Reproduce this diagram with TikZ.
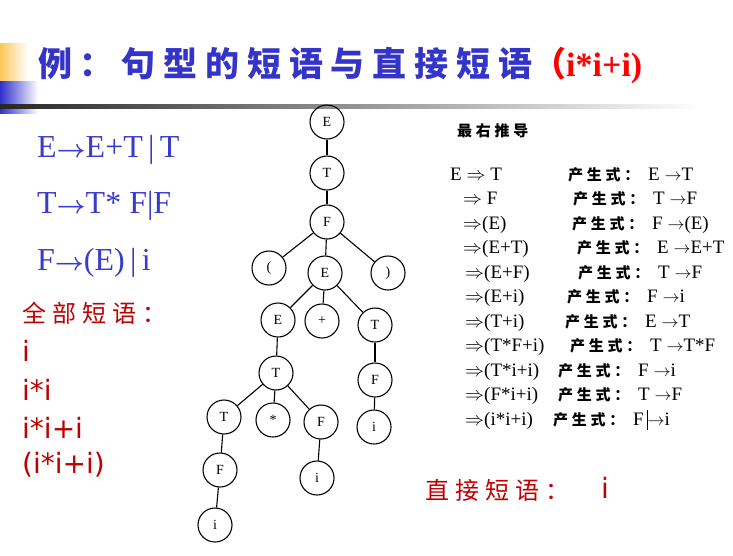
\documentclass[tikz,border=0pt]{standalone}
\usepackage{fontspec}
\usepackage{graphicx}
\usepackage{xcolor}
\usepackage{tikz}
\usetikzlibrary{positioning}
\setmainfont{Liberation Serif}
\newfontfamily\phrasefont{DejaVu Sans}
\newfontfamily\cjk{Noto Sans CJK SC}
\newfontfamily\cjktitle{Noto Sans CJK SC}[LetterSpace=23]
\newfontfamily\cjkwide{Noto Sans CJK SC}[LetterSpace=25]
\definecolor{TitleBlue}{HTML}{3434C8}
\definecolor{GramBlue}{HTML}{3A3ACC}
\definecolor{TitleRed}{HTML}{FF0000}
\definecolor{PhraseRed}{HTML}{C00000}
\definecolor{BarYellow}{HTML}{FCC75A}
\definecolor{BarBlue}{HTML}{2F2FCC}
\newcommand\garrow{\resizebox{29pt}{!}{\boldmath$\rightarrow$}}
\newcommand\darrow{\resizebox{19pt}{!}{$\Rightarrow$}}
\newcommand\rarrow{\resizebox{17pt}{!}{$\rightarrow$}}

\begin{document}
\begin{tikzpicture}[x=1pt,y=-1pt,
    tn/.style={circle,draw,line width=1.1pt,minimum size=34pt,inner sep=0pt,
      font=\fontsize{14}{14}\selectfont},
    branch/.style={line width=1.1pt},
    gram/.style={anchor=base west,text=GramBlue,inner sep=0pt,
      font=\fontsize{32}{34}\selectfont},
    phrase/.style={anchor=base west,text=PhraseRed,inner sep=0pt,
      font=\phrasefont\fontsize{28}{30}\selectfont},
    deriv/.style={anchor=base west,inner sep=0pt,
      font=\fontsize{19}{20}\selectfont},
    rule/.style={anchor=base west,inner sep=0pt,
      font=\fontsize{19}{20}\selectfont}]
  \useasboundingbox (0,0) rectangle (733,555);
  \shade[left color=BarYellow,right color=white] (0,43) rectangle (28,81);
  \shade[left color=BarBlue,right color=white] (0,81) rectangle (38,113);
  \shade[left color=black!85,right color=white] (0,104) rectangle (700,108);

  \node[anchor=base west,inner sep=0pt] (title) at (38,76)
    {\textcolor{TitleBlue}{\cjktitle\bfseries\fontsize{34}{36}\selectfont 例：句型的短语与直接短语}%
     \textcolor{TitleRed}{\bfseries\fontsize{34}{36}\selectfont{\cjk （}i*i+i)}};

  \node[gram] (g1) at (37,157) {E\garrow E+T\,|\,T};
  \node[gram] (g2) at (37,213) {T\garrow T* F|F};
  \node[gram] (g3) at (37,270) {F\garrow(E)\,|\,i};

  \node[anchor=base west,inner sep=0pt,text=PhraseRed] (all) at (22,322)
    {\cjkwide\fontsize{24}{26}\selectfont 全部短语：};
  \node[phrase] (p1) at (22,361) {i};
  \node[phrase] (p2) at (22,400) {i*i};
  \node[phrase] (p3) at (22,438) {i*i+i};
  \node[phrase] (p4) at (22,473) {(i*i+i)};

  \node[tn] (nE)   at (327,122) {E};
  \node[tn] (nT)   at (327,173) {T};
  \node[tn] (nF)   at (327,222) {F};
  \node[tn] (nLp)  at (269,268) {(};
  \node[tn] (nE2)  at (325,273) {E};
  \node[tn] (nRp)  at (388,273) {)};
  \node[tn] (nE3)  at (278,320) {E};
  \node[tn] (nPl)  at (322,321) {+};
  \node[tn] (nT2)  at (375,325) {T};
  \node[tn] (nT3)  at (276,373) {T};
  \node[tn] (nF2)  at (375,380) {F};
  \node[tn] (nI1)  at (374,427) {i};
  \node[tn] (nT4)  at (224,417) {T};
  \node[tn] (nSt)  at (273,420) {*};
  \node[tn] (nF3)  at (321,422) {F};
  \node[tn] (nF4)  at (220,470) {F};
  \node[tn] (nI2)  at (317,478) {i};
  \node[tn] (nI3)  at (215,525) {i};
  \draw[branch] (nE)--(nT); \draw[branch] (nT)--(nF);
  \draw[branch] (nF)--(nLp); \draw[branch] (nF)--(nE2); \draw[branch] (nF)--(nRp);
  \draw[branch] (nE2)--(nE3); \draw[branch] (nE2)--(nPl); \draw[branch] (nE2)--(nT2);
  \draw[branch] (nT2)--(nF2); \draw[branch] (nF2)--(nI1);
  \draw[branch] (nE3)--(nT3);
  \draw[branch] (nT3)--(nT4); \draw[branch] (nT3)--(nSt); \draw[branch] (nT3)--(nF3);
  \draw[branch] (nT4)--(nF4); \draw[branch] (nF4)--(nI3); \draw[branch] (nF3)--(nI2);

  \node[anchor=base west,inner sep=0pt] (rmd) at (457,136)
    {\cjkwide\bfseries\fontsize{15}{16}\selectfont 最右推导};

  \node[deriv] (d1)  at (450,180)   {E \darrow\ T};
  \node[deriv] (d2)  at (463,204.5) {\darrow\ F};
  \node[deriv] (d3)  at (463,229)   {\darrow(E)};
  \node[deriv] (d4)  at (463,253.5) {\darrow(E+T)};
  \node[deriv] (d5)  at (465,278)   {\darrow(E+F)};
  \node[deriv] (d6)  at (465,302.5) {\darrow(E+i)};
  \node[deriv] (d7)  at (465,327)   {\darrow(T+i)};
  \node[deriv] (d8)  at (465,351.5) {\darrow(T*F+i)};
  \node[deriv] (d9)  at (465,376)   {\darrow(T*i+i)};
  \node[deriv] (d10) at (465,400.5) {\darrow(F*i+i)};
  \node[deriv] (d11) at (465,425)   {\darrow(i*i+i)};

  \newcommand\prodlabel{\makebox[80pt][l]{\cjkwide\bfseries\fontsize{15}{15}\selectfont 产生式：}}
  \node[rule] (r1)  at (568,180)   {\prodlabel E \rarrow T};
  \node[rule] (r2)  at (573,204.5) {\prodlabel T \rarrow F};
  \node[rule] (r3)  at (572,229)   {\prodlabel F \rarrow(E)};
  \node[rule] (r4)  at (577,253.5) {\prodlabel E \rarrow E+T};
  \node[rule] (r5)  at (578,278)   {\prodlabel T \rarrow F};
  \node[rule] (r6)  at (567,302.5) {\prodlabel F \rarrow i};
  \node[rule] (r7)  at (565,327)   {\prodlabel E \rarrow T};
  \node[rule] (r8)  at (570,351.5) {\prodlabel T \rarrow T*F};
  \node[rule] (r9)  at (558,376)   {\prodlabel F \rarrow i};
  \node[rule] (r10) at (558,400.5) {\prodlabel T \rarrow F};
  \node[rule] (r11) at (553,425)
    {\prodlabel F\,\rule[-5pt]{0.8pt}{20pt}\rarrow i};

  \node[anchor=base west,inner sep=0pt,text=PhraseRed] (direct) at (425,499)
    {\cjkwide\fontsize{24}{26}\selectfont 直接短语：};
  \node[phrase] (dp) at (601,498) {i};
\end{tikzpicture}
\end{document}
